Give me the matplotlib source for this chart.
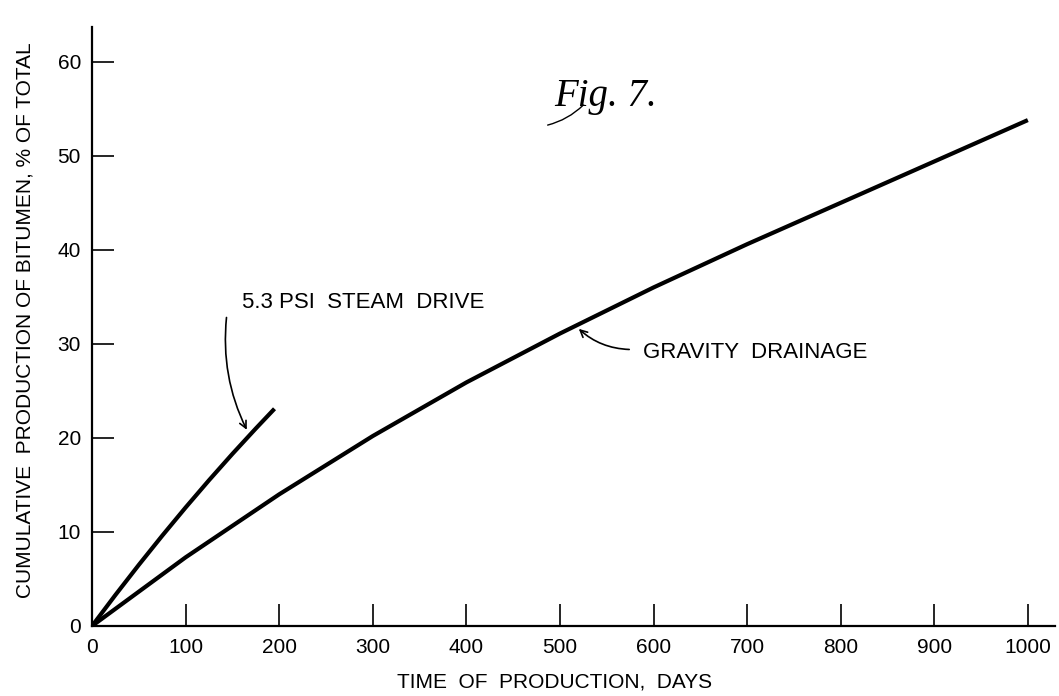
import matplotlib
matplotlib.use("Agg")
from matplotlib import pyplot as plt

# values
gravity_days = [0, 100, 200, 300, 400, 500, 600, 700, 800, 900, 1000]
gravity_pct = [0, 7.3, 14.0, 20.2, 25.9, 31.1, 36.0, 40.6, 45.0, 49.4, 53.8]

steam_days = [0, 25, 50, 75, 100, 125, 150, 175, 195]
steam_pct = [0, 3.3, 6.5, 9.6, 12.6, 15.5, 18.3, 21.0, 23.1]

x_ticks = [0, 100, 200, 300, 400, 500, 600, 700, 800, 900, 1000]
y_ticks = [0, 10, 20, 30, 40, 50, 60]

plt.rcParams["font.family"] = ["Liberation Sans", "DejaVu Sans"]

fig = plt.figure(figsize=(10.59, 6.96), dpi=100)
ax = fig.add_axes([0.0869, 0.1006, 0.9093, 0.8606])

ax.plot(gravity_days, gravity_pct, color="black", lw=3, solid_capstyle="butt")
ax.plot(steam_days, steam_pct, color="black", lw=3, solid_capstyle="butt")

ax.set_xlim(0, 1029)
ax.set_ylim(0, 63.7)
ax.set_xticks(x_ticks)
ax.set_yticks(y_ticks)
ax.tick_params(axis="both", direction="in", length=16, width=1.2,
               labelsize=15, color="black")
ax.tick_params(axis="x", pad=9)
ax.tick_params(axis="y", pad=8)

for s in ["top", "right"]:
    ax.spines[s].set_visible(False)
for s in ["left", "bottom"]:
    ax.spines[s].set_linewidth(1.6)

fig.text(25 / 1059, 1 - 320 / 696, "CUMULATIVE  PRODUCTION OF BITUMEN, % OF TOTAL",
         rotation=90, ha="center", va="center", fontsize=15)
fig.text(555 / 1059, 1 - 682 / 696, "TIME  OF  PRODUCTION,  DAYS",
         ha="center", va="center", fontsize=15)

# annotations
ax.text(290, 34.4, "5.3 PSI  STEAM  DRIVE", ha="center", va="center", fontsize=16)
ax.annotate("", xy=(166.7, 20.6), xytext=(144, 33.1),
            arrowprops=dict(arrowstyle="->,head_length=0.5,head_width=0.25",
                            color="black", lw=1.2,
                            connectionstyle="arc3,rad=0.15"))

ax.text(589, 29.1, "GRAVITY  DRAINAGE", ha="left", va="center", fontsize=16)
ax.annotate("", xy=(518, 31.8), xytext=(577, 29.4),
            arrowprops=dict(arrowstyle="->,head_length=0.5,head_width=0.25",
                            color="black", lw=1.2,
                            connectionstyle="arc3,rad=-0.2"))

ax.text(549, 56.3, "Fig. 7.", ha="center", va="center", fontsize=28,
        family="Liberation Serif", style="italic")
ax.annotate("", xy=(527, 55.6), xytext=(484, 53.2),
            arrowprops=dict(arrowstyle="-", color="black", lw=1,
                            connectionstyle="arc3,rad=0.15"))

fig.savefig("out.png", dpi=100)
